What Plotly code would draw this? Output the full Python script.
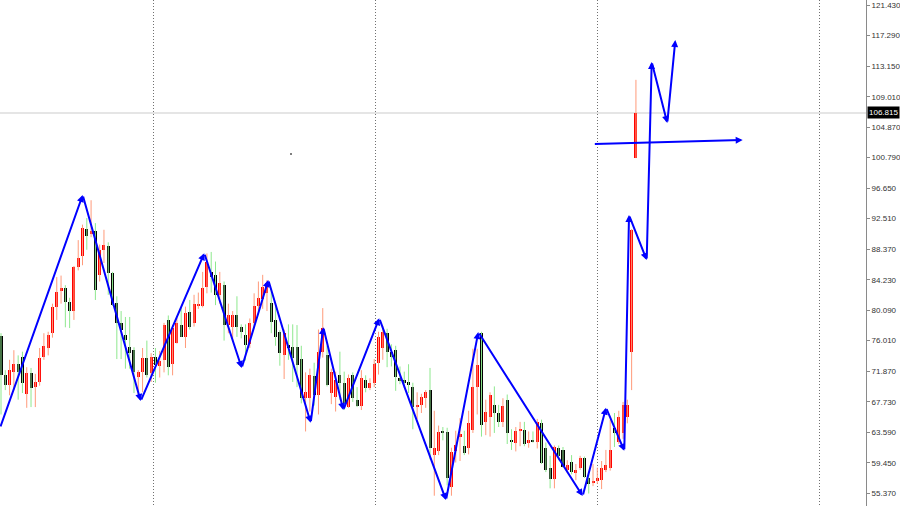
import plotly.graph_objects as go

# ---------------- data ----------------
opens = [76.6, 71.3, 70.0, 71.7, 72.9, 73.8, 68.8, 71.6, 69.7, 70.4,
         73.8, 75.0, 77.0, 80.6, 82.7, 83.1, 81.2, 80.0, 86.0, 87.4,
         91.1, 90.4, 90.8, 84.9, 88.3, 88.8, 85.1, 81.1, 78.4, 76.8,
         75.1, 74.7, 71.1, 71.75, 73.6, 71.6, 73.8, 72.6, 73.4, 78.8,
         72.8, 75.7, 78.1, 76.5, 79.9, 78.4, 80.7, 80.7, 83.3, 85.3,
         84.9, 82.2, 83.5, 78.1, 77.8, 79.5, 77.8, 76.7, 75.5, 78.4,
         80.7, 81.6, 82.5, 81.1, 78.8, 77.2, 74.0, 75.4, 75.1, 75.1,
         73.5, 68.2, 68.2, 71.2, 68.6, 74.4, 74.0, 68.9, 68.4, 71.3,
         70.3, 67.0, 71.3, 67.9, 67.1, 70.7, 69.6, 70.3, 73.0, 75.0,
         77.0, 74.5, 74.7, 71.0, 70.7, 70.4, 69.7, 67.0, 67.3, 68.2,
         69.3, 60.5, 61.0, 63.7, 63.6, 56.2, 61.0, 62.9, 61.8, 61.5,
         63.9, 69.7, 77.0, 65.0, 65.7, 67.3, 66.2, 65.0, 67.9, 62.6,
         62.1, 63.8, 63.9, 62.2, 62.5, 62.3, 64.9, 61.5, 58.8, 57.3,
         61.5, 61.2, 58.5, 59.6, 58.1, 58.8, 60.1, 57.4, 56.7, 57.0,
         57.1, 58.5, 58.8, 64.2, 62.3, 63.5, 65.7, 74.4, 100.72]
highs = [77.0, 72.0, 73.4, 74.7, 74.0, 74.5, 72.4, 72.3, 71.5, 75.0,
         77.0, 77.2, 81.0, 84.6, 84.8, 83.5, 81.8, 86.1, 89.6, 91.7,
         92.6, 95.0, 91.9, 89.0, 91.0, 89.3, 85.3, 82.0, 80.0, 79.2,
         79.2, 75.1, 72.0, 75.0, 76.0, 74.3, 75.0, 74.6, 78.4, 79.4,
         78.1, 79.1, 80.5, 80.6, 81.5, 82.2, 82.5, 85.3, 87.8, 88.0,
         86.7, 85.3, 84.0, 81.0, 80.0, 82.0, 78.2, 78.2, 79.0, 82.4,
         84.0, 84.9, 84.2, 83.0, 81.0, 77.4, 77.5, 78.2, 78.2, 78.1,
         75.3, 71.7, 72.2, 73.0, 77.5, 80.4, 75.3, 72.2, 71.8, 74.5,
         71.8, 71.4, 71.7, 69.7, 72.0, 71.3, 70.9, 73.5, 77.2, 78.0,
         77.6, 75.5, 75.3, 72.5, 71.8, 72.8, 70.3, 69.0, 68.8, 69.3,
         72.3, 66.5, 64.5, 64.3, 64.2, 61.5, 63.8, 65.5, 63.8, 66.5,
         74.9, 74.9, 77.2, 68.0, 69.0, 69.8, 67.3, 68.2, 68.7, 64.0,
         64.3, 65.0, 65.0, 63.7, 63.7, 65.4, 65.3, 62.2, 60.4, 61.8,
         61.8, 61.6, 59.8, 60.5, 59.3, 60.4, 60.3, 57.9, 59.3, 58.8,
         59.7, 61.2, 65.3, 66.2, 66.5, 67.7, 68.0, 91.1, 111.3]
lows = [66.0, 69.3, 68.6, 69.3, 68.0, 68.9, 66.9, 67.0, 67.0, 69.9,
        73.4, 74.0, 76.4, 78.8, 81.0, 77.8, 77.7, 78.8, 85.5, 86.2,
        88.3, 90.0, 81.5, 84.0, 86.5, 82.2, 80.7, 73.5, 73.5, 72.2,
        72.2, 68.9, 68.2, 69.0, 71.0, 70.4, 70.3, 71.0, 71.7, 71.3,
        71.3, 75.6, 76.5, 75.0, 77.5, 77.9, 80.3, 80.5, 82.4, 82.5,
        80.8, 81.0, 76.0, 77.0, 76.0, 76.5, 76.3, 73.3, 75.0, 77.8,
        80.0, 80.3, 80.0, 77.0, 75.3, 72.6, 70.8, 73.4, 70.4, 69.7,
        67.5, 63.7, 66.4, 67.2, 66.0, 73.7, 69.8, 67.4, 66.4, 68.0,
        66.6, 66.9, 67.7, 67.0, 66.6, 69.0, 69.3, 69.7, 71.4, 73.4,
        72.4, 72.5, 69.2, 70.1, 69.6, 68.9, 64.0, 65.4, 66.2, 66.9,
        59.9, 55.0, 60.5, 62.5, 56.4, 55.0, 59.5, 59.7, 60.5, 60.6,
        63.5, 66.0, 63.0, 63.2, 63.0, 63.5, 64.3, 64.3, 62.0, 61.2,
        61.0, 61.7, 61.7, 61.5, 62.2, 61.4, 59.3, 58.2, 56.0, 56.0,
        59.8, 58.8, 58.1, 57.9, 57.1, 58.5, 57.4, 55.3, 56.3, 56.6,
        55.9, 58.2, 58.4, 61.6, 62.0, 62.7, 64.8, 69.3, 100.7]
closes = [71.3, 70.0, 72.0, 72.9, 71.7, 70.3, 71.6, 69.6, 70.4, 73.6,
          75.3, 76.8, 80.6, 82.6, 83.1, 81.2, 80.0, 86.0, 87.2, 91.2,
          90.2, 90.8, 82.9, 88.3, 88.9, 85.1, 80.8, 78.4, 77.4, 76.1,
          74.3, 71.75, 71.8, 73.6, 71.3, 73.8, 72.7, 73.2, 78.1, 72.4,
          77.7, 78.4, 76.5, 79.7, 77.8, 81.0, 81.0, 83.1, 86.6, 84.6,
          82.2, 83.8, 78.1, 79.5, 79.5, 77.8, 77.1, 75.4, 78.4, 80.7,
          81.8, 83.3, 83.8, 78.5, 76.5, 74.3, 77.0, 75.0, 73.6, 72.7,
          68.2, 69.0, 71.3, 68.6, 74.4, 77.7, 70.0, 71.7, 70.7, 70.3,
          67.6, 71.0, 68.2, 67.1, 71.0, 69.6, 70.2, 72.9, 76.5, 77.2,
          74.5, 73.8, 71.1, 70.5, 70.3, 70.0, 67.0, 67.3, 68.4, 69.0,
          61.5, 61.5, 63.6, 63.5, 57.4, 60.9, 61.9, 63.4, 60.8, 64.8,
          69.7, 72.7, 64.6, 66.4, 68.6, 66.2, 65.0, 67.2, 63.5, 62.3,
          63.8, 64.0, 62.0, 62.6, 62.4, 65.0, 59.4, 58.5, 57.3, 61.6,
          60.4, 58.9, 59.2, 58.2, 58.5, 60.1, 57.5, 56.6, 57.0, 57.4,
          58.7, 59.2, 61.2, 63.5, 65.7, 67.3, 67.3, 90.96, 106.815]

# zigzag pivots (bar index, price)
zig_x = [-0.23, 19.04, 32.56, 47.39, 56.11, 62.31, 72.19, 75.13, 79.79, 88.18,
         103.73, 111.26, 135.59, 141.03, 145.29, 146.39, 150.51, 151.68, 155.31, 157.18]
zig_y = [64.17, 95.71, 67.82, 87.82, 72.29, 84.20, 64.89, 77.80, 66.60, 79.02,
         54.42, 77.16, 54.96, 66.92, 61.09, 93.00, 86.91, 113.71, 105.46, 116.69]
# horizontal arrow (bar index, price)
hline_x = [138.07, 172.89]
hline_y = [102.61, 103.16]
# stray dot
dot_x = [67.6]
dot_y = [101.26]

y_ticks = [121.430, 117.290, 113.150, 109.010, 104.870, 100.790, 96.650, 92.510,
           88.370, 84.230, 80.090, 76.010, 71.870, 67.730, 63.590, 59.450, 55.370]
last_price = 106.815
time_grid = [35.66, 87.18, 138.93, 190.68]

# ---------------- figure ----------------
n = len(opens)
idx = list(range(n))
highs = [max(h, o, c) for h, o, c in zip(highs, opens, closes)]
lows = [min(l, o, c) for l, o, c in zip(lows, opens, closes)]

fig = go.Figure()

# wicks
for up, col in [(True, "#FF9A7A"), (False, "#8EE88E")]:
    wx, wy = [], []
    for i in idx:
        if (closes[i] >= opens[i]) == up:
            wx += [i, i, None]
            wy += [lows[i], highs[i], None]
    fig.add_trace(go.Scatter(x=wx, y=wy, mode="lines", line=dict(color=col, width=1),
                             hoverinfo="skip", showlegend=False))

# bodies
for up, col in [(True, "#FF0000"), (False, "#000000")]:
    bx, bb, bh = [], [], []
    for i in idx:
        if (closes[i] >= opens[i]) == up:
            lo = min(opens[i], closes[i])
            h = abs(closes[i] - opens[i])
            bx.append(i)
            bb.append(lo)
            bh.append(max(h, 0.15))
    fig.add_trace(go.Bar(x=bx, y=bh, base=bb, marker=dict(color=col, line=dict(width=0)),
                         width=0.7, hoverinfo="skip", showlegend=False))

fig.add_trace(go.Scatter(x=dot_x, y=dot_y, mode="markers",
                         marker=dict(color="#555555", size=2), showlegend=False, hoverinfo="skip"))

# zigzag arrows
arrows = []
for k in range(1, len(zig_x)):
    arrows.append(dict(x=zig_x[k], y=zig_y[k], ax=zig_x[k - 1], ay=zig_y[k - 1],
                       xref="x", yref="y", axref="x", ayref="y", text="",
                       showarrow=True, arrowhead=2, arrowsize=0.7, arrowwidth=2,
                       arrowcolor="#0000FF", standoff=0, startstandoff=0))
arrows.append(dict(x=hline_x[1], y=hline_y[1], ax=hline_x[0], ay=hline_y[0],
                   xref="x", yref="y", axref="x", ayref="y", text="",
                   showarrow=True, arrowhead=2, arrowsize=0.7, arrowwidth=2,
                   arrowcolor="#0000FF", standoff=0, startstandoff=0))
arrows.append(dict(x=1, y=last_price, xref="paper", yref="y", xanchor="left",
                   yanchor="middle", xshift=1, text=f"{last_price:.3f}", showarrow=False,
                   bgcolor="#000000", borderpad=1,
                   font=dict(family="Liberation Sans", size=8, color="#FFFFFF")))

fig.add_shape(type="line", xref="paper", x0=0, x1=1, yref="y", y0=last_price, y1=last_price,
              line=dict(color="#DCDCDC", width=1.5), layer="below")

fig.update_layout(
    width=900, height=506,
    margin=dict(l=0, r=34, t=0, b=0, pad=0, autoexpand=False),
    paper_bgcolor="white", plot_bgcolor="white",
    barmode="overlay", bargap=0,
    showlegend=False, hovermode=False,
    annotations=arrows,
    xaxis=dict(range=[-0.233, 201.63], showticklabels=False, ticks="",
               tickvals=time_grid, showgrid=True, gridcolor="#707070", griddash="1px,2px",
               gridwidth=1, zeroline=False, showline=False, fixedrange=True,
               automargin=False),
    yaxis=dict(range=[53.61, 122.107], side="right", tickvals=y_ticks,
               ticktext=[f"{v:.3f}" for v in y_ticks], showgrid=False, zeroline=False,
               showline=True, linecolor="#8A8A8A", linewidth=1,
               ticks="outside", ticklen=3, tickcolor="#8A8A8A",
               tickfont=dict(family="Liberation Sans", size=8, color="#333333"),
               fixedrange=True, automargin=False),
)

fig.write_html("out.html", config={"displayModeBar": False},
               post_script="document.body.style.margin='0px';document.body.style.padding='0px';")
